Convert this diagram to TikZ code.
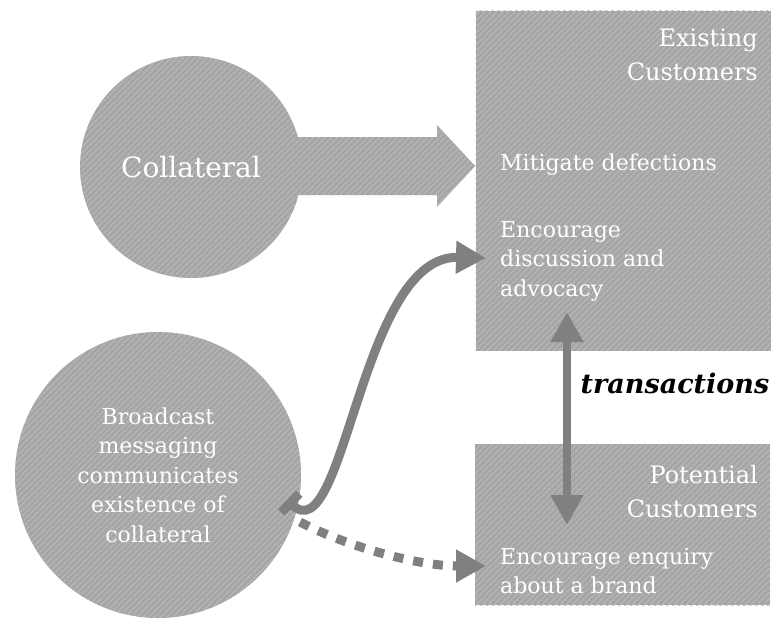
\documentclass[tikz,border=0pt]{standalone}
\usepackage{fontspec}
\setmainfont{DejaVu Serif}
\usetikzlibrary{arrows.meta,patterns.meta}
\definecolor{hatchbase}{RGB}{165,165,165}
\definecolor{hatchline}{RGB}{184,184,184}
\definecolor{arrowgray}{RGB}{128,128,128}
\tikzset{
  hatched/.style={preaction={fill=hatchbase}, pattern={Lines[angle=45,distance=4pt,line width=1.4pt]}, pattern color=hatchline, draw=none},
  wtext/.style={text=white, inner sep=0pt},
  bodyfont/.style={font=\fontsize{22}{29.5}\selectfont},
  headfont/.style={font=\fontsize{24}{34}\selectfont},
  thickarrow/.style={draw=arrowgray, line width=9pt, line cap=butt},
  bigtip/.tip={Triangle[length=30pt,width=31pt]},
  bartail/.tip={Bar[width=26pt,line width=9pt]},
}
\begin{document}
\begin{tikzpicture}[x=1pt,y=-1pt]
\useasboundingbox (0,0) rectangle (781,633);
% rectangles
\node[hatched, inner sep=0pt, minimum width=295pt, minimum height=340pt, anchor=north west] (ex) at (475,10) {};
\node[hatched, inner sep=0pt, minimum width=295pt, minimum height=161pt, anchor=north west] (po) at (475,444) {};
% block arrow
\fill[hatched] (280,137) -- (437,137) -- (437,125) -- (475,166) -- (437,207) -- (437,195) -- (280,195) -- cycle;
% circles
\node[circle, hatched, minimum size=222pt, inner sep=0pt, text=white, font=\fontsize{28}{34}\selectfont] (coll) at (191,167) {Collateral};
\node[circle, hatched, minimum size=286pt, inner sep=0pt, text=white, align=center, bodyfont] (bc) at (158,475) {Broadcast\\messaging\\communicates\\existence of\\collateral};
% texts in rectangles
\node[wtext, headfont, align=right, anchor=north east] (exh) at (758,29) {Existing\\Customers};
\node[wtext, bodyfont, anchor=base west] (mit) at (500,170) {Mitigate defections};
\node[wtext, bodyfont, align=left, anchor=north west] (enc) at (500,221) {Encourage\\discussion and\\advocacy};
\node[wtext, headfont, align=right, anchor=north east] (poh) at (758,465) {Potential\\Customers};
\node[wtext, bodyfont, align=left, anchor=north west] (enq) at (500,548) {Encourage enquiry\\about a brand};
\node[inner sep=0pt, anchor=base, font=\fontsize{27}{30}\selectfont\bfseries\itshape] (tr) at (675,393) {transactions};
% connectors
\coordinate (cstart) at (287,500);
\coordinate (cend) at (486,258);
\coordinate (dstart) at (300,522);
\coordinate (dend) at (486,566);
\coordinate (tt) at (567,312);
\coordinate (tb) at (567,525);
\draw[thickarrow, bartail-bigtip] (cstart) .. controls (345,555) and (360,255) .. (cend);
\draw[thickarrow, dash pattern=on 10pt off 10pt, -bigtip] (dstart) .. controls (350,548) and (420,566) .. (dend);
\draw[draw=arrowgray, line width=8pt, bigtip-bigtip] (tt) -- (tb);
\end{tikzpicture}
\end{document}
